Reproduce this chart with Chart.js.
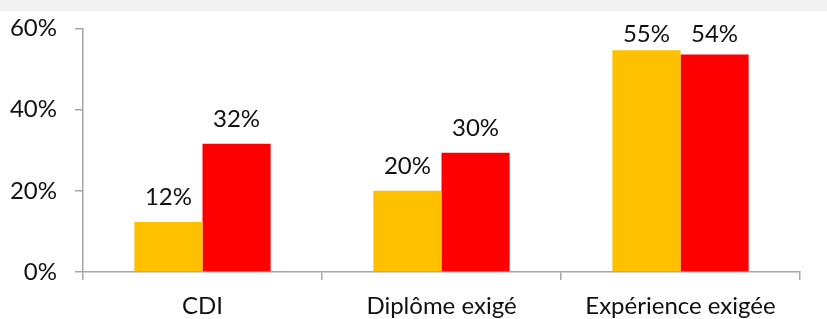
<!DOCTYPE html>
<html>
<head>
<meta charset="utf-8">
<script src="https://cdn.jsdelivr.net/npm/chart.js@4.4.0/dist/chart.umd.min.js"></script>
<style>
  html, body { margin: 0; padding: 0; }
  body { width: 827px; height: 319px; position: relative; overflow: hidden;
         background: linear-gradient(#f2f2f2 0, #f2f2f2 11px, #fff 11px); }
  #wrap { position: absolute; left: 0; top: -4px; width: 827px; height: 323px; }
</style>
</head>
<body>
<div id="wrap"><canvas id="chart"></canvas></div>
<script>
const categories = ['CDI', 'Diplôme exigé', 'Expérience exigée'];
const seriesA = [12.3, 20.0, 54.6];
const seriesB = [31.6, 29.4, 53.6];
const labelsA = ['12%', '20%', '55%'];
const labelsB = ['32%', '30%', '54%'];
const yTicks = [0, 20, 40, 60];

const textColor = '#111111';
const axisColor = '#a6a6a6';
const font = { family: 'Lato', size: 24 };

// value labels above the bars, kept inside the plot top like the original
const valueLabels = {
  id: 'valueLabels',
  afterDatasetsDraw(chart) {
    const ctx = chart.ctx;
    const texts = [labelsA, labelsB];
    const minBottom = chart.chartArea.top + 14;
    ctx.save();
    ctx.font = `${font.size}px ${font.family}`;
    ctx.fillStyle = textColor;
    ctx.textAlign = 'center';
    ctx.textBaseline = 'alphabetic';
    chart.data.datasets.forEach((ds, i) => {
      chart.getDatasetMeta(i).data.forEach((bar, j) => {
        const y = Math.max(bar.y - 17, minBottom);
        ctx.fillText(texts[i][j], bar.x, y);
      });
    });
    ctx.restore();
  }
};

new Chart(document.getElementById('chart'), {
  type: 'bar',
  data: {
    labels: categories,
    datasets: [
      { label: 'A', data: seriesA, backgroundColor: '#ffc000' },
      { label: 'B', data: seriesB, backgroundColor: '#ff0000' }
    ]
  },
  options: {
    responsive: true,
    maintainAspectRatio: false,
    animation: false,
    layout: { padding: { top: 6, right: 27, left: 0, bottom: 0 } },
    datasets: { bar: { categoryPercentage: 0.57, barPercentage: 1 } },
    plugins: { legend: { display: false }, tooltip: { enabled: false } },
    scales: {
      x: {
        border: { color: axisColor, width: 1.5 },
        grid: { drawOnChartArea: false, color: axisColor, tickLength: 8, lineWidth: 1.5 },
        ticks: { color: textColor, font: font, padding: 12 },
        afterFit(scale) { scale.height = 47; }
      },
      y: {
        min: 0,
        max: 60,
        border: { color: axisColor, width: 1.5 },
        grid: { drawOnChartArea: false, color: axisColor, tickLength: 8, lineWidth: 1.5 },
        ticks: {
          color: textColor,
          font: font,
          padding: 18,
          stepSize: 20,
          callback: (v) => yTicks.includes(v) ? v + '%' : ''
        },
        afterFit(scale) { scale.width = 83; }
      }
    }
  },
  plugins: [valueLabels]
});
</script>
</body>
</html>
